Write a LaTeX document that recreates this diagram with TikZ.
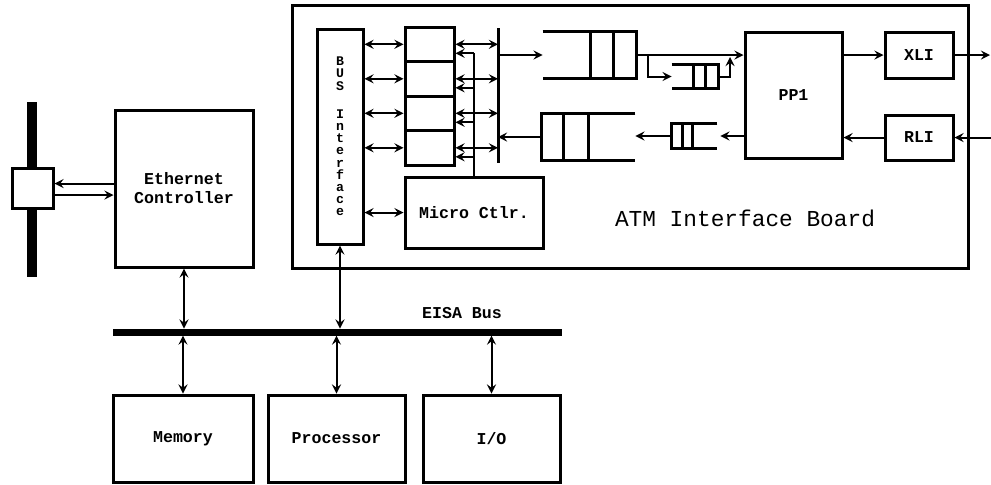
\documentclass[tikz,border=0pt]{standalone}
\usepackage{fontspec}
\setmonofont{Liberation Mono}
\usetikzlibrary{arrows}

\begin{document}
\begin{tikzpicture}
  [x=0.5pt,y=-0.5pt,>=stealth,
   every node/.style={font=\ttfamily\bfseries\fontsize{8.3}{9.5}\selectfont}]

  \tikzstyle{box}   = [draw,line width=1.5pt,inner sep=0pt]
  \tikzstyle{queue} = [inner sep=0pt]
  \tikzstyle{wire}  = [line width=1pt]
  \tikzstyle{qline} = [line width=1.5pt]

  \useasboundingbox (0,0) rectangle (991,484);

  % ATM board
  \node[box,minimum width=338pt,minimum height=131.5pt] (board) at (630,136.5) {};
  \node[font=\ttfamily\fontsize{11.4}{13}\selectfont] (atm) at (745,218) {ATM Interface Board};

  \node[box,minimum width=23pt,minimum height=107.5pt,align=center,
        font=\ttfamily\bfseries\fontsize{6.6}{6.1}\selectfont] (busif) at (340,136.5)
        {B\\U\\S\\[8pt]I\\n\\t\\e\\r\\f\\a\\c\\e};

  \foreach \i/\y in {1/44.25,2/78.75,3/113.25,4/147.75}
    \node[box,minimum width=24.5pt,minimum height=17.25pt] (r\i) at (429.5,\y) {};

  \node[box,minimum width=69pt,minimum height=35.5pt] (mctl) at (474,212.5) {Micro Ctlr.};

  \coordinate (ibt) at (498,28);
  \coordinate (ibb) at (498,163);
  \draw[qline] (ibt) -- (ibb);

  \foreach \i in {1,2,3,4} {
    \draw[wire,<->] (r\i.west -| busif.east) -- (r\i.west);
    \draw[wire,<->] (r\i.east) -- (r\i.east -| ibt);
    \draw[wire,->] ([yshift=-4.5pt]r\i.east -| mctl.north) -- ([yshift=-4.5pt]r\i.east);
  }
  \draw[wire] (mctl.north) -- ([yshift=-4.5pt]r1.east -| mctl.north);
  \draw[wire,<->] (mctl.west -| busif.east) -- (mctl.west);

  % queues
  \node[queue,minimum width=46.5pt,minimum height=23pt] (q1) at (589.5,55) {};
  \node[queue,minimum width=46.5pt,minimum height=23pt] (q2) at (588.5,137) {};
  \node[queue,minimum width=23pt,minimum height=11.5pt] (q3) at (695,76.5) {};
  \node[queue,minimum width=22.5pt,minimum height=12pt] (q4) at (694.5,136) {};

  \draw[qline] (q1.north west) -- (q1.north east) -- (q1.south east) -- (q1.south west);
  \draw[qline] ([xshift=-11.5pt]q1.north east) -- ([xshift=-11.5pt]q1.south east);
  \draw[qline] ([xshift=-23pt]q1.north east) -- ([xshift=-23pt]q1.south east);

  \draw[qline] (q2.north east) -- (q2.north west) -- (q2.south west) -- (q2.south east);
  \draw[qline] ([xshift=11pt]q2.north west) -- ([xshift=11pt]q2.south west);
  \draw[qline] ([xshift=23.5pt]q2.north west) -- ([xshift=23.5pt]q2.south west);

  \draw[qline] (q3.north west) -- (q3.north east) -- (q3.south east) -- (q3.south west);
  \draw[qline] ([xshift=-6.5pt]q3.north east) -- ([xshift=-6.5pt]q3.south east);
  \draw[qline] ([xshift=-12.5pt]q3.north east) -- ([xshift=-12.5pt]q3.south east);

  \draw[qline] (q4.north east) -- (q4.north west) -- (q4.south west) -- (q4.south east);
  \draw[qline] ([xshift=5.5pt]q4.north west) -- ([xshift=5.5pt]q4.south west);
  \draw[qline] ([xshift=10.5pt]q4.north west) -- ([xshift=10.5pt]q4.south west);

  \node[box,minimum width=48.5pt,minimum height=63pt] (pp1) at (793.5,95) {PP1};
  \node[box,minimum width=34pt,minimum height=23pt] (xli) at (919,55) {XLI};
  \node[box,minimum width=34pt,minimum height=22.5pt] (rli) at (919,137.5) {RLI};

  \coordinate (br) at (648,55);
  \coordinate (mg) at (730,57);
  \coordinate (xout) at (990,55);
  \coordinate (rin) at (991,137.5);

  \draw[wire,->] (ibt |- q1.west) -- (q1.west);
  \draw[wire,->] (q1.east) -- (q1.east -| pp1.west);
  \draw[wire,->] (br) |- (q3.west);
  \draw[wire,->] (q3.east) -| (mg);
  \draw[wire,->] (pp1.west |- q4.east) -- ([xshift=1.5pt]q4.east);
  \draw[wire,->] (q4.west) -- (q4.west -| q2.east);
  \draw[wire,->] (q2.west) -- (q2.west -| ibt);
  \draw[wire,->] (xli.west -| pp1.east) -- (xli.west);
  \draw[wire,->] (rli.west) -- (rli.west -| pp1.east);
  \draw[wire,->] (xli.east) -- (xout);
  \draw[wire,->] (rin) -- (rli.east);

  % ethernet side
  \coordinate (cabT) at (32,102);
  \coordinate (cabB) at (32,277);
  \draw[line width=5pt] (cabT) -- (cabB);
  \node[box,fill=white,minimum width=20.5pt,minimum height=20pt] (tx) at (32.5,188) {};
  \node[box,minimum width=69pt,minimum height=78.5pt,align=center] (ec) at (184,188.5)
        {Ethernet\\Controller};
  \draw[wire,->] ([yshift=2.5pt]ec.west) -- ([yshift=2.5pt]ec.west -| tx.east);
  \draw[wire,->] ([yshift=-3.5pt]tx.east) -- ([yshift=-3.5pt]tx.east -| ec.west);

  % EISA bus
  \coordinate (eisaL) at (113,332);
  \coordinate (eisaR) at (562,332);
  \draw[line width=3.5pt] (eisaL) -- (eisaR);
  \node (eisa) at (462,313) {EISA Bus};

  \node[box,minimum width=70pt,minimum height=43.5pt] (mem)  at (183,438.5)   {Memory};
  \node[box,minimum width=68.5pt,minimum height=43.5pt] (proc) at (336.5,438.5) {Processor};
  \node[box,minimum width=68.5pt,minimum height=43.5pt] (io)   at (491.5,438.5) {I/O};

  \draw[wire,<->,shorten >=1.75pt] (ec.south) -- (ec.south |- eisaL);
  \draw[wire,<->,shorten >=1.75pt] (busif.south) -- (busif.south |- eisaL);
  \draw[wire,<->,shorten >=1.75pt] (mem.north) -- (mem.north |- eisaL);
  \draw[wire,<->,shorten >=1.75pt] (proc.north) -- (proc.north |- eisaL);
  \draw[wire,<->,shorten >=1.75pt] (io.north) -- (io.north |- eisaL);
\end{tikzpicture}
\end{document}
